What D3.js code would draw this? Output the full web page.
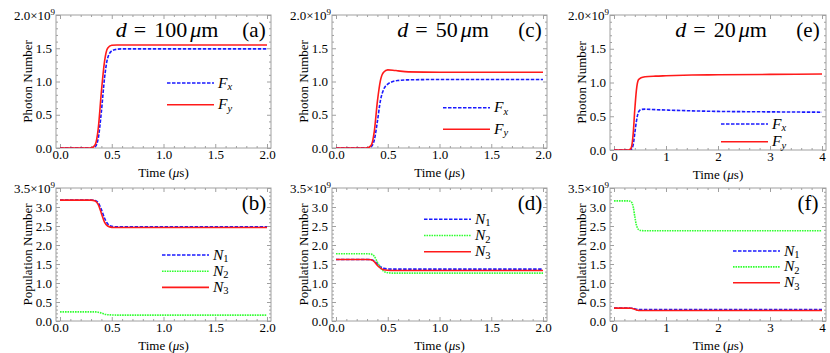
<!DOCTYPE html>
<html>
<head>
<meta charset="utf-8">
<script src="https://cdn.jsdelivr.net/npm/d3@7/dist/d3.min.js"></script>
<style>
  body { margin: 0; background: #fff; }
  svg { display: block; }
</style>
</head>
<body>
<svg width="830" height="353"></svg>
<script>
// ---- data (values in units of 10^9) ----
const tShort = [0, 0.30, 0.34, 0.37, 0.40, 0.43, 0.46, 0.50, 0.55, 0.60, 0.70, 1.0, 2.0]
const tLong = [0, 0.28, 0.33, 0.37, 0.40, 0.43, 0.47, 0.52, 0.6, 0.8, 1.0, 1.5, 2, 3, 4]

// (a) d = 100 um
const fxA = [0, 0, 0.02, 0.15, 0.55, 1.05, 1.35, 1.46, 1.485, 1.49, 1.49, 1.49, 1.49]
const fyA = [0, 0, 0.05, 0.30, 0.85, 1.30, 1.50, 1.545, 1.55, 1.55, 1.55, 1.55, 1.55]
// (c) d = 50 um
const fxC = [0, 0, 0.02, 0.12, 0.40, 0.72, 0.88, 0.96, 1.0, 1.015, 1.025, 1.03, 1.03]
const fyC = [0, 0, 0.04, 0.25, 0.70, 1.02, 1.14, 1.175, 1.17, 1.16, 1.145, 1.14, 1.14]
// (e) d = 20 um
const fxE = [0, 0, 0.01, 0.08, 0.25, 0.42, 0.56, 0.60, 0.605, 0.598, 0.592, 0.58, 0.572, 0.565, 0.56]
const fyE = [0, 0, 0.03, 0.25, 0.60, 0.88, 1.04, 1.07, 1.085, 1.095, 1.10, 1.11, 1.115, 1.12, 1.125]
// (b)
const n1B = [3.18, 3.18, 3.17, 3.11, 2.93, 2.71, 2.56, 2.49, 2.48, 2.48, 2.48, 2.48, 2.48]
const n2B = [0.24, 0.24, 0.24, 0.23, 0.21, 0.18, 0.165, 0.16, 0.155, 0.155, 0.155, 0.155, 0.155]
const n3B = [3.18, 3.18, 3.16, 3.06, 2.83, 2.60, 2.50, 2.465, 2.46, 2.46, 2.46, 2.46, 2.46]
// (d)
const n1D = [1.62, 1.62, 1.61, 1.58, 1.50, 1.43, 1.39, 1.37, 1.365, 1.365, 1.365, 1.365, 1.365]
const n2D = [1.77, 1.77, 1.76, 1.70, 1.55, 1.40, 1.31, 1.27, 1.26, 1.26, 1.26, 1.26, 1.26]
const n3D = [1.62, 1.62, 1.61, 1.56, 1.46, 1.39, 1.35, 1.335, 1.33, 1.33, 1.33, 1.33, 1.33]
// (f)
const n1F = [0.34, 0.34, 0.335, 0.33, 0.32, 0.31, 0.303, 0.30, 0.30, 0.30, 0.30, 0.30, 0.30, 0.30, 0.30]
const n2F = [3.16, 3.16, 3.14, 3.00, 2.75, 2.53, 2.41, 2.38, 2.375, 2.375, 2.375, 2.375, 2.375, 2.375, 2.375]
const n3F = [0.34, 0.34, 0.335, 0.325, 0.31, 0.29, 0.28, 0.275, 0.275, 0.275, 0.275, 0.275, 0.275, 0.275, 0.275]

const photonTicks = [0, 0.5, 1.0, 1.5, 2.0]
const popTicks = [0, 0.5, 1.0, 1.5, 2.0, 2.5, 3.0, 3.5]

// series styles
const styles = {
    blue: { color: '#1a1aff', dash: '3.5,1.5' },
    green: { color: '#33ff33', dash: '1.6,0.9' },
    red: { color: '#ff1a1a', dash: null }
}

const panels = [
    { id: 'a', x0: 56, x1: 271, y0: 15, y1: 148, t: tShort, tMax: 2, tStep: 0.5, tMinor: 0.1, yMax: 2, yTicks: photonTicks, ylabel: 'Photon Number',
      d: '100', series: [{ name: 'F', sub: 'x', v: fxA, s: 'blue' }, { name: 'F', sub: 'y', v: fyA, s: 'red' }],
      legend: { x: 111, y: 68, gap: 21.7 } },
    { id: 'c', x0: 332, x1: 547, y0: 15, y1: 148, t: tShort, tMax: 2, tStep: 0.5, tMinor: 0.1, yMax: 2, yTicks: photonTicks, ylabel: 'Photon Number',
      d: '50', series: [{ name: 'F', sub: 'x', v: fxC, s: 'blue' }, { name: 'F', sub: 'y', v: fyC, s: 'red' }],
      legend: { x: 111, y: 92.7, gap: 21.6 } },
    { id: 'e', x0: 610, x1: 826, y0: 15, y1: 150, t: tLong, tMax: 4, tStep: 1, tMinor: 0.2, yMax: 2, yTicks: photonTicks, ylabel: 'Photon Number',
      d: '20', series: [{ name: 'F', sub: 'x', v: fxE, s: 'blue' }, { name: 'F', sub: 'y', v: fyE, s: 'red' }],
      legend: { x: 111, y: 109, gap: 17.7 } },
    { id: 'b', x0: 56, x1: 271, y0: 188, y1: 321, t: tShort, tMax: 2, tStep: 0.5, tMinor: 0.1, yMax: 3.5, yTicks: popTicks, ylabel: 'Population Number',
      series: [{ name: 'N', sub: '1', v: n1B, s: 'blue' }, { name: 'N', sub: '2', v: n2B, s: 'green' }, { name: 'N', sub: '3', v: n3B, s: 'red' }],
      legend: { x: 106, y: 67, gap: 16.2 } },
    { id: 'd', x0: 332, x1: 547, y0: 188, y1: 321, t: tShort, tMax: 2, tStep: 0.5, tMinor: 0.1, yMax: 3.5, yTicks: popTicks, ylabel: 'Population Number',
      series: [{ name: 'N', sub: '1', v: n1D, s: 'blue' }, { name: 'N', sub: '2', v: n2D, s: 'green' }, { name: 'N', sub: '3', v: n3D, s: 'red' }],
      legend: { x: 92, y: 31.3, gap: 16.2 } },
    { id: 'f', x0: 610, x1: 826, y0: 188, y1: 321, t: tLong, tMax: 4, tStep: 1, tMinor: 0.2, yMax: 3.5, yTicks: popTicks, ylabel: 'Population Number',
      series: [{ name: 'N', sub: '1', v: n1F, s: 'blue' }, { name: 'N', sub: '2', v: n2F, s: 'green' }, { name: 'N', sub: '3', v: n3F, s: 'red' }],
      legend: { x: 123, y: 63, gap: 15.9 } }
]

const svg = d3.select('svg')
const frameColor = '#a0a0a0'
const serif = '"Liberation Serif"'
const fmt = d3.format('.1f')

// every text gets the serif face set inline
const txt = (sel, size) => sel.append('text').style('font-family', serif).style('font-size', size + 'px')

panels.forEach(p => {
    const pad = 4
    const x = d3.scaleLinear().domain([0, p.tMax]).range([p.x0 + pad, p.x1 - pad])
    const y = d3.scaleLinear().domain([0, p.yMax]).range([p.y1, p.y0])
    const w = p.x1 - p.x0, h = p.y1 - p.y0
    const g = svg.append('g')

    const xMajor = d3.range(0, p.tMax + 1e-9, p.tStep)
    const xMinor = d3.range(0, p.tMax + 1e-9, p.tMinor).filter(v => xMajor.every(m => Math.abs(m - v) > 1e-6))
    const yMinor = d3.range(0, p.yMax + 1e-9, 0.1).filter(v => p.yTicks.every(m => Math.abs(m - v) > 1e-6))
    const xFmt = p.tStep < 1 ? fmt : d3.format('d')

    // ticks on all four sides, pointing inward; labels only bottom and left
    const axisSets = [
        { ax: d3.axisBottom(x), tr: `translate(0,${p.y1})`, vals: xMajor, minor: xMinor, f: xFmt, side: 'b' },
        { ax: d3.axisTop(x), tr: `translate(0,${p.y0})`, vals: xMajor, minor: xMinor, f: '', side: 't' },
        { ax: d3.axisLeft(y), tr: `translate(${p.x0},0)`, vals: p.yTicks, minor: yMinor, f: fmt, side: 'l' },
        { ax: d3.axisRight(y), tr: `translate(${p.x1},0)`, vals: p.yTicks, minor: yMinor, f: '', side: 'r' }
    ]
    axisSets.forEach(s => {
        const major = s.ax.tickValues(s.vals).tickSize(-4).tickPadding(s.side === 'b' ? 2 : 4).tickFormat(s.f)
        const gm = g.append('g').attr('transform', s.tr).call(major)
        gm.select('.domain').remove()
        gm.selectAll('line').attr('stroke', frameColor)
        gm.selectAll('text').attr('fill', '#000').style('font-family', serif).style('font-size', '13px')
        if (s.side === 'l') {
            // exponent on the top y tick label
            gm.selectAll('text').filter(d => d === p.yMax).each(function () {
                const sel = d3.select(this).text(null).attr('x', -1)
                sel.append('tspan').text(fmt(p.yMax) + '×10')
                sel.append('tspan').text('9').attr('dy', -5).style('font-size', '9px')
            })
        }
        const minorAx = s.ax.tickValues(s.minor).tickSize(-2).tickFormat('')
        const gn = g.append('g').attr('transform', s.tr).call(minorAx)
        gn.select('.domain').remove()
        gn.selectAll('line').attr('stroke', frameColor)
    })

    // frame
    g.append('rect').attr('x', p.x0).attr('y', p.y0).attr('width', w).attr('height', h)
        .attr('fill', 'none').attr('stroke', frameColor).attr('stroke-width', 1)

    // curves
    const line = d3.line().x((d, i) => x(p.t[i])).y(d => y(d)).curve(d3.curveMonotoneX)
    const clipId = 'clip-' + p.id
    g.append('clipPath').attr('id', clipId).append('rect')
        .attr('x', p.x0).attr('y', p.y0 - 2).attr('width', w).attr('height', h + 2)
    p.series.forEach(s => {
        const st = styles[s.s]
        g.append('path').datum(s.v).attr('d', line)
            .attr('clip-path', `url(#${clipId})`)
            .attr('fill', 'none').attr('stroke', st.color).attr('stroke-width', 1.6)
            .attr('stroke-dasharray', st.dash)
    })

    // legend
    p.series.forEach((s, i) => {
        const st = styles[s.s]
        const ly = p.y0 + p.legend.y + i * p.legend.gap
        const lx = p.x0 + p.legend.x
        g.append('line').attr('x1', lx).attr('x2', lx + 47).attr('y1', ly).attr('y2', ly)
            .attr('stroke', st.color).attr('stroke-width', 1.6).attr('stroke-dasharray', st.dash)
        const t = txt(g, 15.5).attr('x', lx + 51).attr('y', ly + 4.5)
        t.append('tspan').text(s.name).style('font-style', 'italic')
        t.append('tspan').text(s.sub).attr('dy', 2.5).style('font-size', '10.5px')
            .style('font-style', s.sub === 'x' || s.sub === 'y' ? 'italic' : 'normal')
    })

    // axis labels
    const xl = txt(g, 13).attr('x', (p.x0 + p.x1) / 2).attr('y', p.y1 + 29).attr('text-anchor', 'middle')
    xl.append('tspan').text('Time (')
    xl.append('tspan').text('μ').style('font-style', 'italic')
    xl.append('tspan').text('s)')
    txt(g, 13).attr('transform', `translate(${p.x0 - 24},${(p.y0 + p.y1) / 2}) rotate(-90)`)
        .attr('text-anchor', 'middle').text(p.ylabel)

    // title and panel letter
    if (p.d) {
        const tt = txt(g, 22).attr('x', p.x0 + 111).attr('y', p.y0 + 21.5).attr('text-anchor', 'middle')
        tt.append('tspan').text('d').style('font-style', 'italic')
        tt.append('tspan').text('=').attr('dx', 7)
        tt.append('tspan').text(p.d).attr('dx', 8)
        tt.append('tspan').text('μ').attr('dx', 3).style('font-style', 'italic')
        tt.append('tspan').text('m')
    }
    txt(g, 21).attr('x', p.x0 + 198).attr('y', p.y0 + 22).attr('text-anchor', 'middle').text(`(${p.id})`)
})
</script>
</body>
</html>
